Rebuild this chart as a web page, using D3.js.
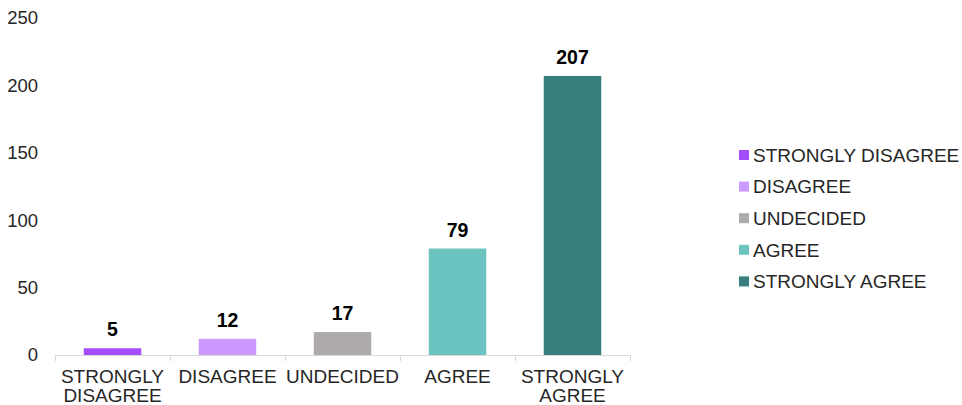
<!DOCTYPE html>
<html>
<head>
<meta charset="utf-8">
<script src="https://cdn.jsdelivr.net/npm/d3@7"></script>
<style>
  html, body { margin: 0; padding: 0; background: #fff; }
  svg { display: block; font-family: "Liberation Sans", Arial, sans-serif; }
</style>
</head>
<body>
<svg id="chart" width="962" height="405"></svg>
<script>
// Survey responses by agreement level
const categories = ["STRONGLY DISAGREE", "DISAGREE", "UNDECIDED", "AGREE", "STRONGLY AGREE"];
const axisLabels = [["STRONGLY", "DISAGREE"], ["DISAGREE"], ["UNDECIDED"], ["AGREE"], ["STRONGLY", "AGREE"]];
const counts = [5, 12, 17, 79, 207];
const colors = ["#a64dff", "#cc99ff", "#afaaaa", "#6cc4c1", "#377f7f"];
const yTicks = [0, 50, 100, 150, 200, 250];

const svg = d3.select("#chart");

const x = d3.scaleBand().domain(categories).range([55, 630]).paddingInner(0.5).paddingOuter(0.25);
const y = d3.scaleLinear().domain([0, 250]).range([355, 18]);

// y-axis tick labels (no axis line, no gridlines)
const yAxis = svg.append("g").attr("transform", "translate(46,0)")
  .call(d3.axisLeft(y).tickValues(yTicks).tickSize(0).tickPadding(8));
yAxis.select(".domain").remove();
yAxis.selectAll("text").attr("font-size", 18.5).attr("fill", "#262626")
  .attr("font-family", "Liberation Sans, Arial, sans-serif");

// bars
svg.append("g").selectAll("rect").data(categories).join("rect")
  .attr("x", d => x(d))
  .attr("width", x.bandwidth())
  .attr("y", (d, i) => y(counts[i]))
  .attr("height", (d, i) => y(0) - y(counts[i]))
  .attr("fill", (d, i) => colors[i]);

// value labels
svg.append("g").selectAll("text").data(categories).join("text")
  .attr("x", d => x(d) + x.bandwidth() / 2)
  .attr("y", (d, i) => y(counts[i]) - 12)
  .attr("text-anchor", "middle")
  .attr("font-size", 19.5).attr("font-weight", "bold").attr("fill", "#000")
  .text((d, i) => counts[i]);

// category axis with tick marks at band boundaries
const xAxisG = svg.append("g");
xAxisG.append("line").attr("x1", 55).attr("x2", 630).attr("y1", 355.5).attr("y2", 355.5)
  .attr("stroke", "#d9d9d9").attr("stroke-width", 1);
const step = (630 - 55) / categories.length;
d3.range(categories.length + 1).forEach(i => {
  const tx = Math.round(55 + i * step) + 0.5;
  xAxisG.append("line").attr("x1", tx).attr("x2", tx).attr("y1", 355).attr("y2", 361)
    .attr("stroke", "#d9d9d9").attr("stroke-width", 1);
});
const catLabels = xAxisG.selectAll("text.cat").data(categories).join("text")
  .attr("class", "cat")
  .attr("x", d => x(d) + x.bandwidth() / 2)
  .attr("y", 383)
  .attr("text-anchor", "middle")
  .attr("font-size", 19).attr("fill", "#262626");
catLabels.each(function(d, i) {
  const t = d3.select(this);
  axisLabels[i].forEach((line, j) => {
    t.append("tspan").attr("x", x(d) + x.bandwidth() / 2).attr("dy", j === 0 ? 0 : 19).text(line);
  });
});

// legend
const legend = svg.append("g").attr("transform", "translate(739,155)");
const rows = legend.selectAll("g").data(categories).join("g")
  .attr("transform", (d, i) => `translate(0,${i * 31.6})`);
rows.append("rect").attr("x", 0).attr("y", -5).attr("width", 10).attr("height", 10)
  .attr("fill", (d, i) => colors[i]);
rows.append("text").attr("x", 14).attr("y", 0).attr("dy", "0.36em")
  .attr("font-size", 19).attr("fill", "#262626").text(d => d);
</script>
</body>
</html>
